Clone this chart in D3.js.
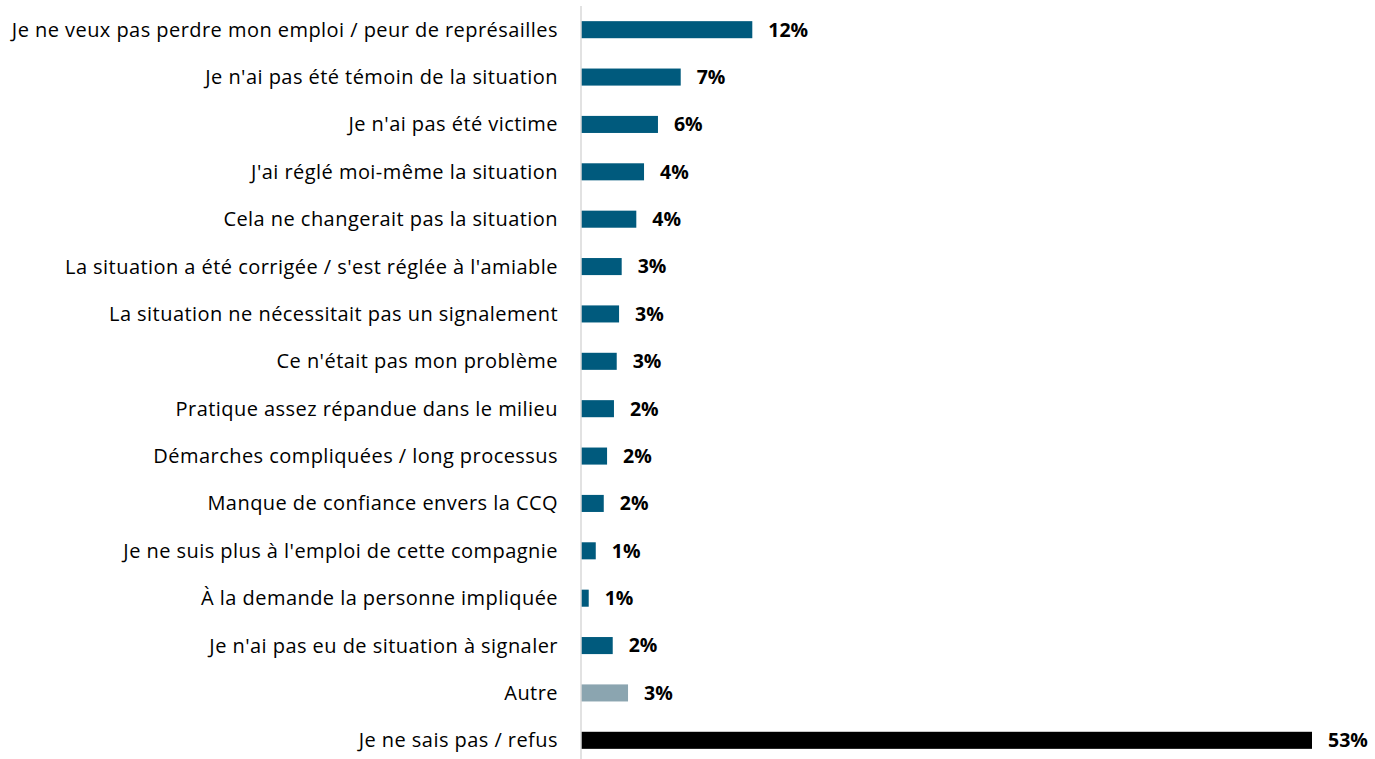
<!DOCTYPE html>
<html>
<head>
<meta charset="utf-8">
<script src="https://cdn.jsdelivr.net/npm/d3@7"></script>
<style>
  body { margin: 0; background: #fff; }
  text { font-family: "Open Sans", Lato, sans-serif; font-variant-ligatures: none; }
</style>
</head>
<body>
<div id="chart"></div>
<script>
const categories = [
    "Je ne veux pas perdre mon emploi / peur de représailles",
    "Je n'ai pas été témoin de la situation",
    "Je n'ai pas été victime",
    "J'ai réglé moi-même la situation",
    "Cela ne changerait pas la situation",
    "La situation a été corrigée / s'est réglée à l'amiable",
    "La situation ne nécessitait pas un signalement",
    "Ce n'était pas mon problème",
    "Pratique assez répandue dans le milieu",
    "Démarches compliquées / long processus",
    "Manque de confiance envers la CCQ",
    "Je ne suis plus à l'emploi de cette compagnie",
    "À la demande la personne impliquée",
    "Je n'ai pas eu de situation à signaler",
    "Autre",
    "Je ne sais pas / refus"
];
const values = [12.42, 7.23, 5.58, 4.57, 4.01, 2.95, 2.76, 2.59, 2.39, 1.89, 1.65, 1.07, 0.56, 2.30, 3.41, 53.0];
const labels = ["12%", "7%", "6%", "4%", "4%", "3%", "3%", "3%", "2%", "2%", "2%", "1%", "1%", "2%", "3%", "53%"];
const kinds = ["main", "main", "main", "main", "main", "main", "main", "main", "main", "main", "main", "main", "main", "main", "other", "dk"];

const colors = { main: "#005a7d", other: "#8ba5b0", dk: "#000000" };

const width = 1375, height = 759;
const x0 = 581;

const svg = d3.select("#chart").append("svg")
    .attr("width", width)
    .attr("height", height);

const x = d3.scaleLinear()
    .domain([0, 53])
    .range([x0, 1312]);

const y = d3.scaleBand()
    .domain(categories)
    .range([6, 764])
    .paddingInner(0.64)
    .paddingOuter(0.32);

svg.selectAll("rect.bar")
    .data(values)
    .enter()
    .append("rect")
    .attr("class", "bar")
    .attr("x", x(0))
    .attr("y", (d, i) => y(categories[i]))
    .attr("width", d => x(d) - x(0))
    .attr("height", y.bandwidth())
    .attr("fill", (d, i) => colors[kinds[i]]);

// axis line
svg.append("line")
    .attr("x1", x0).attr("x2", x0)
    .attr("y1", 6).attr("y2", height)
    .attr("stroke", "#d9d9d9")
    .attr("stroke-width", 1.5);

svg.selectAll("text.cat")
    .data(categories)
    .enter()
    .append("text")
    .attr("class", "cat")
    .attr("x", 558)
    .attr("y", d => y(d) + y.bandwidth() / 2)
    .attr("dy", "0.35em")
    .attr("text-anchor", "end")
    .attr("font-size", "20px")
    .attr("letter-spacing", "0.45px")
    .attr("fill", "#000")
    .text(d => d);

svg.selectAll("text.val")
    .data(values)
    .enter()
    .append("text")
    .attr("class", "val")
    .attr("x", d => x(d) + 16)
    .attr("y", (d, i) => y(categories[i]) + y.bandwidth() / 2)
    .attr("dy", "0.35em")
    .attr("font-size", "19.5px")
    .attr("font-weight", "bold")
    .attr("fill", "#000")
    .text((d, i) => labels[i]);
</script>
</body>
</html>
